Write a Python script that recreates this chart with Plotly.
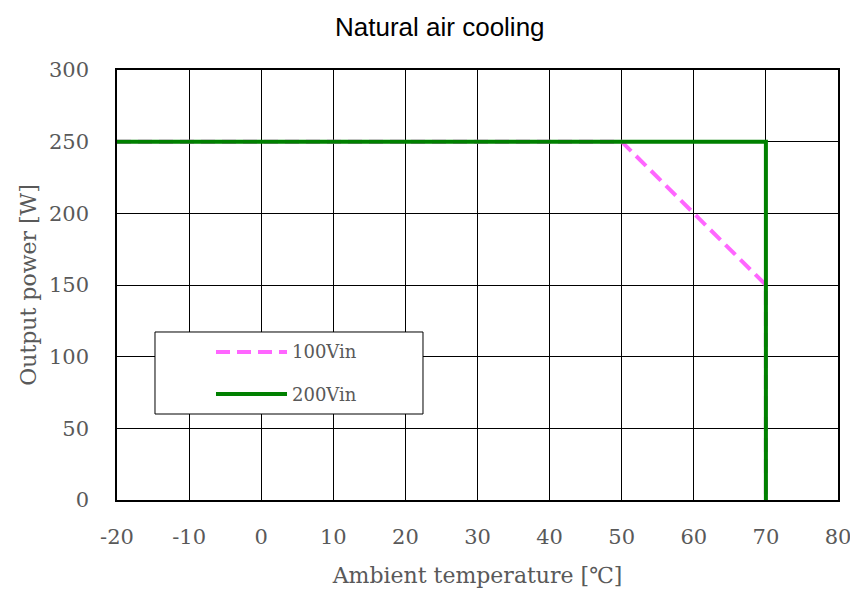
import plotly.graph_objects as go

# Data
temp_100 = [-20, 50, 70, 70]
power_100 = [250, 250, 150, 0]
temp_200 = [-20, 70, 70]
power_200 = [250, 250, 0]
series_names = ["100Vin", "200Vin"]
x_ticks = [-20, -10, 0, 10, 20, 30, 40, 50, 60, 70, 80]
x_tick_labels = ["-20", "-10", "0", "10", "20", "30", "40", "50", "60", "70", "80"]
y_ticks = [0, 50, 100, 150, 200, 250, 300]

serif = "DejaVu Serif"
grey = "#595959"
pink = "#FF66FF"
green = "#008000"
dash = "14px,7px"

fig = go.Figure()
fig.add_trace(go.Scatter(x=temp_100, y=power_100, mode="lines", name=series_names[0],
                         line=dict(color=pink, width=4, dash=dash), showlegend=False))
fig.add_trace(go.Scatter(x=temp_200, y=power_200, mode="lines", name=series_names[1],
                         line=dict(color=green, width=4), showlegend=False))

# manual legend (paper coords)
fig.add_shape(type="rect", xref="paper", yref="paper", x0=0.0527, x1=0.4244, y0=0.2, y1=0.3907,
              line=dict(color="black", width=1), fillcolor="white", layer="above")
fig.add_shape(type="line", xref="paper", yref="paper", x0=0.1373, x1=0.2358, y0=0.3442, y1=0.3442,
              line=dict(color=pink, width=4, dash=dash), layer="above")
fig.add_shape(type="line", xref="paper", yref="paper", x0=0.1373, x1=0.2358, y0=0.2465, y1=0.2465,
              line=dict(color=green, width=4), layer="above")
for name, yy in zip(series_names, [0.3442, 0.2465]):
    fig.add_annotation(xref="paper", yref="paper", x=0.2400, y=yy, text=name, showarrow=False,
                       xanchor="left", yanchor="middle", font=dict(family=serif, size=18, color=grey))

fig.update_layout(
    width=850, height=582,
    margin=dict(l=109, r=20, t=62, b=90),
    paper_bgcolor="white", plot_bgcolor="white",
    title=dict(text="Natural air cooling", x=0.508, xanchor="center", y=0.967, yanchor="middle",
               font=dict(family="Liberation Sans", size=26, color="black")),
    showlegend=False,
)
fig.update_xaxes(range=[-20, 80], tickvals=x_ticks, ticktext=x_tick_labels, automargin=False,
                 showgrid=True, gridcolor="black", gridwidth=1,
                 showline=True, linecolor="black", linewidth=1.5, mirror=True, zeroline=False,
                 ticks="", ticklabelstandoff=17, tickfont=dict(family=serif, size=21, color=grey),
                 title=dict(text="Ambient temperature [℃]", font=dict(family=serif, size=22, color=grey), standoff=20))
fig.update_yaxes(range=[0, 300], tickvals=y_ticks, automargin=False,
                 showgrid=True, gridcolor="black", gridwidth=1,
                 showline=True, linecolor="black", linewidth=1.5, mirror=True, zeroline=False,
                 ticks="", ticklabelstandoff=22, tickfont=dict(family=serif, size=21, color=grey),
                 title=dict(text="Output power [W]", font=dict(family=serif, size=22, color=grey), standoff=6))

fig.write_html("out.html")
